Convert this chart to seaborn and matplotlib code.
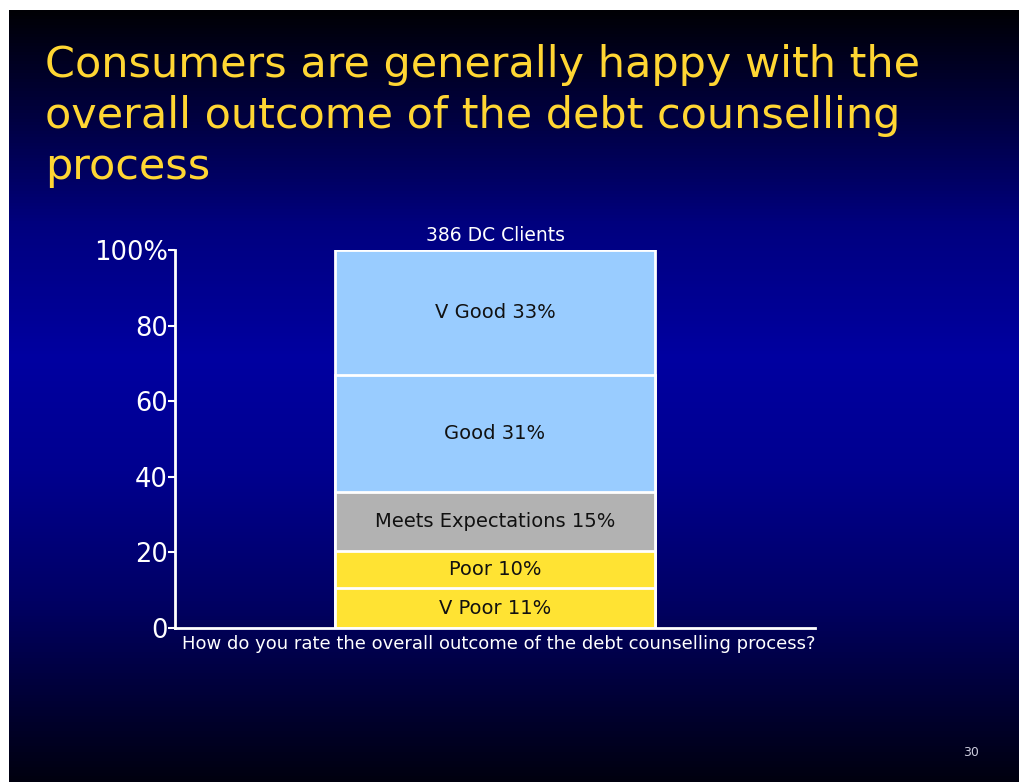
import numpy as np
import pandas as pd
import seaborn as sns
import matplotlib.pyplot as plt
from matplotlib.colors import LinearSegmentedColormap

# 数据
categories = ["V Poor", "Poor", "Meets Expectations", "Good", "V Good"]
shares = [10.5, 10.0, 15.5, 31.0, 33.0]
labels = ["V Poor 11%", "Poor 10%", "Meets Expectations 15%", "Good 31%", "V Good 33%"]
seg_colors = ["#FFE333", "#FFE333", "#B2B2B2", "#99CCFF", "#99CCFF"]
y_ticks = [0, 20, 40, 60, 80, 100]
y_tick_labels = ["0", "20", "40", "60", "80", "100%"]
group = "386 DC Clients"
question = "How do you rate the overall outcome of the debt counselling process?"
title = "Consumers are generally happy with the\noverall outcome of the debt counselling\nprocess"

sns.set_style("white")
plt.rcParams['font.family'] = ['DejaVu Sans']

W, H = 1020, 782
fig = plt.figure(figsize=(W / 100, H / 100), dpi=100)
fig.patch.set_facecolor("white")

# 背景渐变（上黑 -> 中蓝 -> 下黑）
bg = fig.add_axes([9 / W, 0, (W - 9) / W, (H - 10) / H])
cmap = LinearSegmentedColormap.from_list("slide", [
    (0.00, (0.0, 0.0, 0.02)),
    (0.12, (0.0, 0.0, 0.22)),
    (0.28, (0.0, 0.0, 0.50)),
    (0.45, (0.0, 0.0, 0.63)),
    (0.60, (0.0, 0.0, 0.56)),
    (0.76, (0.0, 0.0, 0.40)),
    (0.90, (0.0, 0.0, 0.20)),
    (1.00, (0.0, 0.0, 0.06)),
])
bg.imshow(np.linspace(0, 1, 256).reshape(-1, 1), aspect="auto", cmap=cmap,
          extent=[0, 1, 0, 1])
bg.set_axis_off()

# 标题
fig.text(45 / W, 1 - 44 / H, title, color="#FFD633", fontsize=31,
         va="top", ha="left", linespacing=1.27)

# 图表
ax = fig.add_axes([175 / W, 154 / H, 640 / W, 378 / H])
ax.set_facecolor("none")

df = pd.DataFrame({"group": group, "category": categories, "share": shares,
                   "label": labels, "color": seg_colors})
df["top"] = df["share"].cumsum()
df["mid"] = df["top"] - df["share"] / 2

# 从最高的累计值开始画，叠加成堆积柱
for _, row in df.iloc[::-1].iterrows():
    sns.barplot(x=[row["group"]], y=[row["top"]], color=row["color"],
                width=1.0, edgecolor="white", linewidth=2, saturation=1, ax=ax)

for _, row in df.iterrows():
    ax.text(0, row["mid"], row["label"], ha="center", va="center",
            fontsize=14, color="#111111")

ax.text(0, 101.3, group, ha="center", va="bottom", fontsize=13.5, color="white")

ax.set_xlim(-1, 1)
ax.set_ylim(0, 100)
ax.set_yticks(y_ticks)
ax.set_yticklabels(y_tick_labels, fontsize=18.5, color="white")
ax.set_xticks([])
ax.set_xlabel("")
ax.set_ylabel("")
ax.tick_params(axis="y", direction="out", length=5, width=1.5, color="white", pad=0, left=True)
for side in ["top", "right"]:
    ax.spines[side].set_visible(False)
for side in ["left", "bottom"]:
    ax.spines[side].set_color("white")
    ax.spines[side].set_linewidth(2)

fig.text(182 / W, 1 - 644 / H, question, color="white", fontsize=13,
         ha="left", va="center")

fig.text(971 / W, 1 - 752 / H, "30", color="#CCCCDD", fontsize=9,
         ha="center", va="center")

fig.savefig("out.png", dpi=100)
